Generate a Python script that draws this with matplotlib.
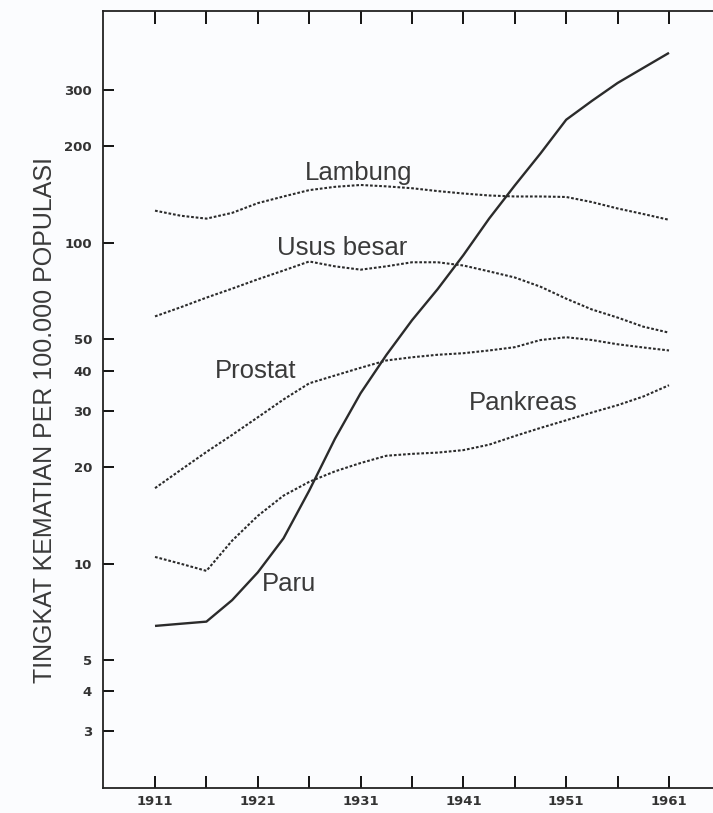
import matplotlib.pyplot as plt
from matplotlib.ticker import FixedLocator, NullLocator

# Years (every 2.5 years, 1911-1961)
years = [1911, 1913.5, 1916, 1918.5, 1921, 1923.5, 1926, 1928.5, 1931, 1933.5, 1936,
         1938.5, 1941, 1943.5, 1946, 1948.5, 1951, 1953.5, 1956, 1958.5, 1961]

# Death rates per 100,000 population (log scale)
paru = [6.4, 6.5, 6.6, 7.7, 9.4, 12.0, 16.9, 24.5, 34, 44.7, 57.4,
        71.8, 91.6, 119, 151, 190, 242, 277, 315, 351, 391]
lambung = [126, 121.5, 119, 124, 133, 139.5, 146, 149.5, 151.5, 150, 148,
           145, 142.5, 140.5, 139.5, 139.5, 139, 134, 128, 123, 118]
usus_besar = [59, 63, 67.5, 72, 77, 82, 87.5, 84.5, 82.5, 84.5, 87,
              87, 85, 81.5, 78, 73, 67, 62, 58.5, 54.8, 52.5]
prostat = [17.2, 19.6, 22.3, 25.2, 28.6, 32.5, 36.5, 38.6, 40.8, 43, 44,
           44.8, 45.3, 46.2, 47.3, 49.8, 50.8, 49.8, 48.3, 47.2, 46.2]
pankreas = [10.5, 10.0, 9.5, 11.8, 14.1, 16.3, 18.0, 19.4, 20.6, 21.7, 22.0,
            22.2, 22.6, 23.5, 25.0, 26.5, 28.0, 29.6, 31.2, 33.2, 36]

y_ticks = [3, 4, 5, 10, 20, 30, 40, 50, 100, 200, 300]
x_ticks = [1911, 1916, 1921, 1926, 1931, 1936, 1941, 1946, 1951, 1956, 1961]
x_labels = ['1911', '', '1921', '', '1931', '', '1941', '', '1951', '', '1961']

bg = '#fbfcfe'
ink = '#2b2b2b'

fig = plt.figure(figsize=(7.13, 8.13), dpi=100, facecolor=bg)
ax = fig.add_axes([103 / 713, 25 / 813, 610 / 713, 777 / 813], facecolor=bg)

dots = (0, (1.3, 0.9))
ax.plot(years, paru, color=ink, lw=1.7, solid_capstyle='butt')
ax.plot(years, lambung, color=ink, lw=1.5, ls=dots)
ax.plot(years, usus_besar, color=ink, lw=1.5, ls=dots)
ax.plot(years, prostat, color=ink, lw=1.5, ls=dots)
ax.plot(years, pankreas, color=ink, lw=1.5, ls=dots)

ax.set_yscale('log')
ax.set_xlim(1905.94, 1965.28)
ax.set_ylim(2.0, 528)

# Curve names
lab = dict(fontsize=18.5, color='#3a3a3a', family='Liberation Sans', ha='center', va='baseline')
ax.text(1930.8, 157, 'Lambung', **lab)
ax.text(1929.2, 91.8, 'Usus besar', **lab)
ax.text(1920.8, 37.9, 'Prostat', **lab)
ax.text(1946.8, 30.2, 'Pankreas', **lab)
ax.text(1924.0, 8.2, 'Paru', **lab)

# Axes styling
ax.spines['right'].set_visible(False)
for s in ['left', 'bottom', 'top']:
    ax.spines[s].set_linewidth(1.3)
    ax.spines[s].set_color('#222222')

ax.yaxis.set_major_locator(FixedLocator(y_ticks))
ax.yaxis.set_minor_locator(NullLocator())
ax.set_yticklabels([str(v) for v in y_ticks])
ax.set_xticks(x_ticks)
ax.set_xticklabels(x_labels)

ax.tick_params(axis='y', direction='in', length=8, width=1.3, pad=8,
               labelsize=9.5, labelcolor='#333333', right=False)
ax.tick_params(axis='x', direction='in', length=9, width=1.3, pad=5,
               labelsize=9.5, labelcolor='#333333', top=True)
for t in ax.get_xticklabels() + ax.get_yticklabels():
    t.set_fontweight('bold')

fig.text(45 / 713, 1 - 420 / 813, 'TINGKAT KEMATIAN PER 100.000 POPULASI',
         rotation=90, fontsize=18, family='Liberation Sans', color='#3a3a3a',
         ha='center', va='center')

fig.savefig('out.png', dpi=100, facecolor=bg)
